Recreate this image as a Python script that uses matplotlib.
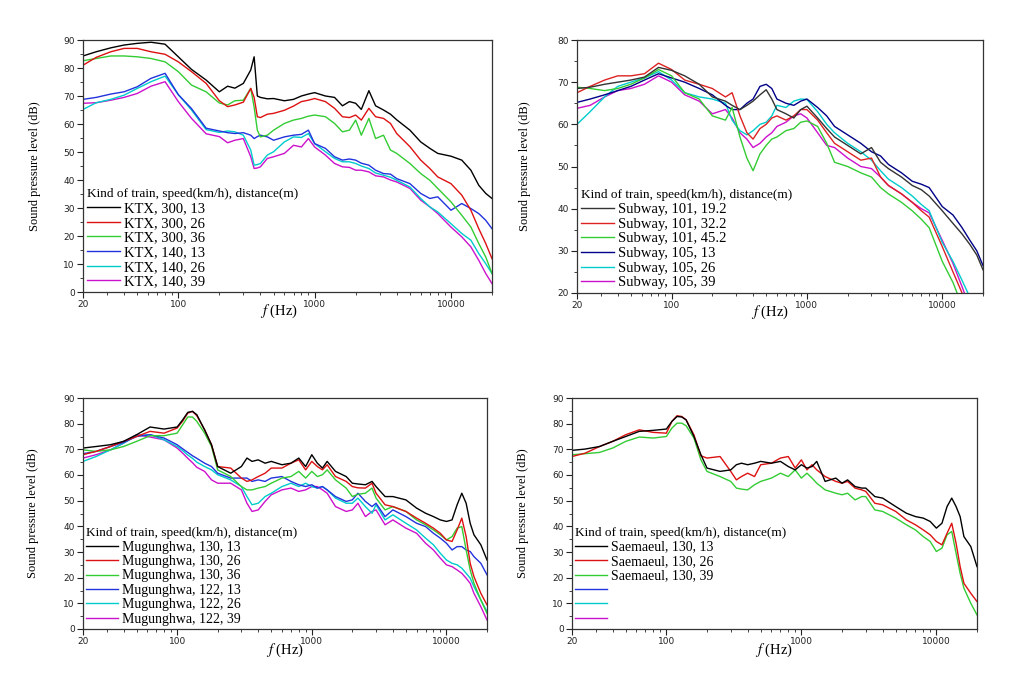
import numpy as np
import matplotlib
matplotlib.use('Agg')
import matplotlib.pyplot as plt
from matplotlib.ticker import FixedLocator, FixedFormatter, LogLocator, NullFormatter, MultipleLocator
from matplotlib.lines import Line2D

# ---------------- data ----------------
LEGEND_TITLE = "Kind of train, speed(km/h), distance(m)"

# Panel 1: KTX
freq_ktx = [20, 25, 32, 40, 50, 63, 80, 100, 125, 160, 200, 230, 260, 300, 340, 360, 380, 400, 450, 500,
            600, 700, 800, 900, 1000, 1200, 1400, 1600, 1800, 2000, 2200, 2500, 2800, 3200, 3600, 4000,
            5000, 6000, 7000, 8000, 10000, 12000, 14000, 16000, 18000, 20000]
ktx_labels = ["KTX, 300, 13", "KTX, 300, 26", "KTX, 300, 36", "KTX, 140, 13", "KTX, 140, 26", "KTX, 140, 39"]
ktx_300_13 = [84.3, 85.8, 87.2, 88.2, 88.8, 89.2, 88.5, 84.0, 79.5, 75.7, 71.5, 73.5, 72.8, 74.5, 79.3,
              84.0, 70.0, 69.5, 69.0, 69.1, 68.3, 68.8, 70.0, 70.7, 71.2, 70.0, 69.5, 66.5, 68.0, 67.4,
              65.2, 71.9, 66.5, 65.0, 63.5, 61.5, 57.8, 53.6, 51.3, 49.5, 48.5, 47.1, 43.5, 38.1, 35.2, 33.4]
ktx_300_26 = [81.0, 83.8, 85.8, 87.0, 87.0, 85.8, 84.9, 82.2, 78.7, 74.5, 68.3, 66.2, 66.8, 67.8, 72.7,
              69.5, 62.6, 62.3, 63.5, 63.8, 64.9, 66.4, 68.0, 68.5, 69.1, 68.0, 65.6, 62.6, 62.3, 63.2,
              61.4, 65.6, 62.6, 62.0, 60.2, 56.6, 51.9, 47.1, 44.1, 41.1, 38.7, 34.6, 29.2, 22.6, 17.3, 11.9]
ktx_300_36 = [82.6, 83.4, 84.3, 84.3, 84.0, 83.4, 82.2, 78.7, 73.9, 71.5, 67.5, 66.8, 68.3, 68.5, 72.7,
              66.0, 57.8, 55.4, 56.0, 57.8, 60.2, 61.4, 62.0, 62.8, 63.2, 62.6, 60.2, 57.2, 57.8, 61.4,
              56.0, 62.0, 54.8, 56.0, 50.7, 49.5, 45.9, 42.3, 39.9, 37.0, 32.2, 27.4, 23.2, 17.3, 12.5, 6.6]
ktx_140_13 = [68.8, 69.5, 70.7, 71.5, 73.3, 76.3, 78.1, 70.5, 65.5, 58.5, 57.5, 56.9, 56.6, 56.9, 56.0,
              54.8, 55.5, 56.0, 55.4, 54.2, 55.4, 56.0, 56.3, 57.8, 53.0, 51.3, 48.3, 47.1, 47.5, 47.1,
              46.0, 45.3, 43.5, 42.3, 42.1, 40.5, 38.7, 35.2, 33.4, 34.0, 29.2, 31.6, 29.8, 28.0, 25.6, 22.6]
ktx_140_26 = [65.2, 67.6, 68.8, 70.3, 72.7, 75.1, 77.1, 70.5, 65.0, 58.0, 57.0, 57.5, 57.2, 56.0, 50.7,
              45.3, 45.5, 45.9, 48.9, 50.1, 53.6, 55.4, 55.2, 56.6, 53.0, 50.1, 47.7, 46.5, 46.5, 45.9,
              45.0, 44.1, 42.5, 41.7, 41.0, 39.9, 37.5, 33.4, 30.4, 28.6, 24.4, 20.9, 18.5, 13.7, 10.1, 6.6]
ktx_140_39 = [67.4, 67.6, 68.5, 69.5, 70.9, 73.5, 75.1, 68.0, 62.0, 56.5, 55.5, 53.3, 54.2, 54.8, 48.3,
              44.1, 44.3, 44.7, 47.7, 48.3, 49.5, 52.4, 51.8, 54.8, 51.8, 48.9, 45.9, 44.7, 44.5, 43.5,
              43.5, 42.9, 41.5, 41.1, 40.0, 39.3, 37.0, 32.8, 30.4, 28.0, 23.2, 19.7, 16.1, 11.3, 6.6, 3.0]

# Panel 2: Subway
freq_sub = [20, 25, 32, 40, 50, 63, 80, 100, 125, 160, 200, 250, 280, 320, 360, 400, 450, 500, 550, 600,
            700, 800, 900, 1000, 1200, 1400, 1600, 2000, 2500, 3000, 3500, 4000, 5000, 6000, 7000, 8000,
            10000, 12000, 14000, 16000, 18000, 20000]
sub_labels = ["Subway, 101, 19.2", "Subway, 101, 32.2", "Subway, 101, 45.2",
              "Subway, 105, 13", "Subway, 105, 26", "Subway, 105, 39"]
sub_101_192 = [68.5, 68.8, 69.5, 70.0, 70.5, 71.2, 73.5, 72.8, 71.5, 69.5, 66.5, 65.5, 64.5, 63.5, 64.5,
               65.5, 67.0, 68.2, 66.0, 63.5, 62.5, 61.5, 63.5, 64.3, 61.5, 59.0, 57.0, 55.0, 53.0, 54.5,
               51.0, 49.5, 47.5, 45.5, 44.5, 43.0, 39.5, 36.5, 34.0, 31.5, 29.0, 25.5]
sub_101_322 = [67.5, 69.0, 70.5, 71.5, 71.5, 72.0, 74.5, 73.0, 70.5, 69.5, 68.5, 66.5, 67.5, 62.0, 58.0,
               56.5, 59.0, 60.0, 61.5, 62.0, 61.0, 62.0, 63.5, 63.5, 61.0, 58.0, 55.5, 53.5, 51.5, 52.0,
               47.5, 45.5, 43.5, 41.5, 39.5, 38.0, 31.0, 25.0, 20.0, 15.0, 11.0, 7.0]
sub_101_452 = [68.8, 68.5, 68.0, 68.5, 69.5, 71.0, 73.0, 71.5, 67.5, 66.0, 62.0, 61.0, 64.0, 57.0, 52.0,
               49.0, 53.0, 55.0, 56.5, 57.0, 58.5, 59.0, 60.5, 60.8, 59.5, 55.5, 51.0, 50.0, 48.5, 47.5,
               45.0, 43.5, 41.5, 39.5, 37.5, 35.5, 27.5, 22.5, 17.0, 12.0, 8.0, 5.0]
sub_105_13 = [65.2, 66.0, 67.0, 68.0, 69.0, 70.5, 72.0, 71.0, 70.0, 68.5, 67.0, 64.5, 63.5, 63.5, 65.0,
              66.0, 69.0, 69.5, 68.5, 66.0, 65.0, 64.5, 65.5, 66.0, 64.0, 62.0, 59.5, 57.5, 55.5, 53.5,
              52.5, 50.5, 48.5, 46.5, 45.8, 45.0, 40.5, 38.5, 35.5, 32.5, 30.0, 26.5]
sub_105_26 = [60.0, 63.0, 66.5, 69.0, 70.0, 71.0, 72.5, 70.5, 67.5, 66.5, 66.0, 65.0, 61.0, 58.5, 57.5,
              58.5, 60.0, 60.5, 62.0, 64.5, 64.0, 65.5, 66.0, 65.9, 63.0, 60.0, 58.0, 55.5, 53.5, 51.5,
              49.0, 47.0, 45.0, 43.0, 41.0, 39.5, 32.0, 27.5, 23.0, 19.0, 14.0, 9.0]
sub_105_39 = [63.8, 64.5, 66.5, 68.0, 68.5, 69.5, 71.5, 70.0, 67.0, 65.5, 62.5, 63.5, 61.5, 58.0, 56.5,
              54.5, 55.5, 57.0, 58.0, 59.5, 60.5, 62.0, 62.5, 61.5, 58.0, 55.0, 54.5, 52.0, 50.0, 49.5,
              47.5, 45.5, 43.5, 41.5, 40.0, 39.0, 32.5, 27.0, 21.5, 16.5, 12.0, 8.0]

# Panels 3 and 4: Mugunghwa and Saemaeul
freq_conv = [20, 25, 32, 40, 50, 63, 80, 100, 110, 120, 130, 140, 160, 180, 200, 250, 300, 330, 360, 400,
             450, 500, 600, 700, 800, 900, 1000, 1100, 1200, 1300, 1500, 1800, 2000, 2200, 2500, 2800,
             3000, 3500, 4000, 5000, 6000, 7000, 8000, 9000, 10000, 11000, 12000, 13000, 14000, 15000,
             16000, 18000, 20000]
mug_labels = ["Mugunghwa, 130, 13", "Mugunghwa, 130, 26", "Mugunghwa, 130, 36",
              "Mugunghwa, 122, 13", "Mugunghwa, 122, 26", "Mugunghwa, 122, 39"]
mug_130_13 = [70.5, 71.1, 71.8, 73.1, 75.7, 78.7, 77.9, 78.7, 81.5, 84.4, 84.8, 83.5, 77.6, 71.8, 63.3,
              60.7, 63.3, 66.6, 65.3, 65.9, 64.6, 65.3, 64.0, 64.6, 66.6, 63.3, 67.9, 64.6, 62.7, 65.3,
              61.4, 59.4, 56.8, 56.5, 56.2, 57.5, 55.5, 51.6, 51.6, 50.3, 47.1, 45.1, 43.8, 42.5, 41.9,
              42.5, 48.4, 52.9, 49.0, 41.2, 36.7, 32.8, 26.9]
mug_130_26 = [67.9, 69.2, 71.1, 73.1, 75.0, 77.0, 76.3, 78.3, 81.0, 84.1, 84.8, 83.1, 77.6, 71.8, 63.3,
              62.7, 58.8, 57.5, 58.1, 59.4, 60.7, 62.7, 62.7, 64.6, 65.9, 62.0, 65.3, 63.3, 62.0, 64.0,
              59.4, 57.5, 55.5, 55.0, 54.9, 56.8, 52.9, 48.4, 47.7, 45.8, 43.2, 41.2, 39.3, 37.3, 34.7,
              34.1, 38.6, 43.2, 36.0, 25.6, 20.4, 13.9, 9.4]
mug_130_36 = [69.8, 69.2, 69.8, 71.1, 73.1, 75.3, 75.3, 76.3, 79.6, 82.6, 82.6, 80.9, 76.3, 71.1, 62.0,
              59.4, 55.5, 54.2, 54.2, 54.9, 55.5, 56.8, 58.8, 59.4, 61.4, 58.8, 61.4, 59.4, 60.1, 62.0,
              58.1, 54.9, 51.6, 52.5, 52.9, 54.9, 51.0, 46.4, 47.7, 45.8, 42.5, 40.6, 38.6, 36.7, 34.7,
              36.0, 39.3, 39.9, 30.8, 23.0, 17.8, 11.3, 6.1]
mug_122_13 = [68.3, 69.2, 71.1, 72.7, 75.0, 75.7, 74.4, 71.8, 70.2, 68.8, 67.5, 66.5, 64.6, 63.3, 60.7,
              58.8, 58.8, 58.8, 57.5, 58.1, 57.5, 58.8, 59.4, 57.5, 56.2, 55.5, 56.2, 54.9, 55.5, 54.2,
              51.6, 49.7, 50.3, 52.9, 49.7, 47.7, 49.0, 43.8, 46.4, 43.8, 41.2, 39.9, 37.3, 35.4, 33.4,
              30.8, 32.1, 32.1, 30.8, 30.2, 28.2, 25.6, 21.1]
mug_122_26 = [65.3, 67.2, 69.8, 72.4, 75.3, 75.7, 73.7, 71.1, 69.5, 67.8, 66.5, 65.0, 63.3, 62.0, 60.1,
              58.1, 55.5, 51.6, 48.4, 49.0, 51.6, 52.9, 55.5, 56.8, 55.5, 56.8, 55.5, 54.9, 55.5, 54.2,
              51.0, 49.0, 49.0, 51.0, 47.7, 45.1, 48.4, 42.5, 44.5, 41.2, 38.6, 35.4, 32.8, 29.5, 26.9,
              25.6, 25.0, 23.7, 21.7, 19.8, 16.5, 11.3, 6.8]
mug_122_39 = [66.6, 67.9, 69.8, 72.4, 75.7, 74.8, 73.7, 70.5, 68.5, 66.5, 64.8, 63.0, 61.4, 58.1, 56.8,
              56.8, 54.2, 49.0, 45.8, 46.4, 49.7, 52.3, 54.2, 54.9, 53.6, 54.2, 55.5, 55.5, 54.2, 52.9,
              47.7, 45.8, 46.4, 49.0, 43.8, 45.8, 46.4, 40.6, 42.5, 39.3, 37.3, 33.4, 30.8, 27.6, 25.0,
              24.3, 23.0, 21.7, 19.8, 17.8, 13.9, 8.7, 3.5]

sae_labels = ["Saemaeul, 130, 13", "Saemaeul, 130, 26", "Saemaeul, 130, 39", " ", " ", " "]
sae_130_13 = [69.6, 70.1, 71.1, 73.1, 75.0, 77.0, 77.4, 77.9, 80.9, 82.8, 82.6, 81.5, 75.0, 68.0, 62.7,
              61.4, 62.0, 64.0, 64.6, 64.0, 64.6, 65.3, 64.6, 65.3, 63.3, 62.0, 64.0, 62.7, 63.3, 65.3,
              57.5, 58.8, 56.8, 58.1, 55.5, 54.9, 54.9, 51.6, 51.0, 47.7, 45.1, 43.8, 43.2, 41.9, 39.3,
              41.2, 47.7, 51.0, 47.7, 43.8, 36.0, 32.1, 24.3]
sae_130_26 = [67.2, 68.5, 71.1, 73.1, 75.7, 77.6, 76.6, 76.3, 80.9, 83.1, 82.8, 81.5, 75.7, 67.5, 66.6,
              67.2, 61.4, 58.1, 59.4, 60.7, 59.4, 64.0, 64.6, 66.6, 67.2, 62.7, 65.9, 62.0, 64.0, 62.0,
              59.4, 57.5, 56.8, 57.5, 54.9, 54.2, 53.6, 49.0, 48.4, 45.8, 42.5, 40.6, 38.6, 36.7, 34.1,
              32.8, 37.3, 41.2, 33.4, 24.3, 17.8, 13.9, 10.7]
sae_130_39 = [67.9, 68.3, 68.8, 70.5, 73.1, 74.8, 74.4, 75.0, 78.3, 80.2, 80.2, 79.2, 74.4, 66.0, 61.4,
              59.4, 57.5, 54.9, 54.5, 54.2, 56.2, 57.5, 58.8, 60.7, 59.4, 62.0, 58.8, 60.7, 58.8, 56.8,
              54.2, 52.9, 52.3, 52.9, 50.3, 51.6, 51.6, 46.4, 45.8, 43.2, 40.6, 38.6, 36.0, 34.1, 30.2,
              31.5, 36.7, 38.0, 29.5, 21.7, 15.9, 10.0, 5.5]

# ---------------- style ----------------
SERIF = 'Liberation Serif'
plt.rcParams['mathtext.fontset'] = 'stix'

colors_std = ['#000000', '#dd1111', '#33cc33', '#2233dd', '#00cccc', '#cc11cc']
colors_sub = ['#333333', '#dd2222', '#33cc33', '#000088', '#00cccc', '#cc11cc']

fig = plt.figure(figsize=(10.11, 6.76), dpi=100)

axes_rects = [
    [83 / 1011, 384 / 676, 409 / 1011, 252 / 676],
    [577 / 1011, 383 / 676, 406 / 1011, 253 / 676],
    [83 / 1011, 47 / 676, 404 / 1011, 231 / 676],
    [572 / 1011, 47 / 676, 405 / 1011, 231 / 676],
]


def style_axes(ax, ymin, ymax, ylab_x, xlab_x, xlab_y):
    ax.set_xscale('log')
    ax.set_xlim(20, 20000)
    ax.set_ylim(ymin, ymax)
    ax.xaxis.set_major_locator(FixedLocator([20, 100, 1000, 10000]))
    ax.xaxis.set_major_formatter(FixedFormatter(['20', '100', '1000', '10000']))
    ax.xaxis.set_minor_locator(LogLocator(base=10, subs=np.arange(2, 10), numticks=20))
    ax.xaxis.set_minor_formatter(NullFormatter())
    ax.yaxis.set_major_locator(MultipleLocator(10))
    ax.yaxis.set_minor_locator(MultipleLocator(5))
    ax.tick_params(which='both', direction='out', top=False, right=False,
                   labelsize=6.5, colors='#222222', pad=2)
    ax.tick_params(which='major', length=4, width=0.8)
    ax.tick_params(which='minor', length=2, width=0.6)
    for sp in ax.spines.values():
        sp.set_linewidth(0.9)
        sp.set_color('#333333')
    ax.set_ylabel('Sound pressure level (dB)', family=SERIF, fontsize=9)
    ax.yaxis.label.set_va('center')
    ax.yaxis.set_label_coords(ylab_x, 0.5)
    ax.set_xlabel(r'$\mathit{f}$ (Hz)', family=SERIF, fontsize=10.5)
    ax.xaxis.label.set_va('center')
    ax.xaxis.set_label_coords(xlab_x, xlab_y)


def add_legend(ax, handles, labels, fs):
    ax.legend(handles, labels, title=LEGEND_TITLE, loc='lower left', frameon=False,
              prop={'family': SERIF, 'size': fs},
              title_fontproperties={'family': SERIF, 'size': 9.5},
              handlelength=2.3, handletextpad=0.25, labelspacing=0.1,
              borderaxespad=0.1, borderpad=0.15, alignment='left')


panels = [
    (freq_ktx, [ktx_300_13, ktx_300_26, ktx_300_36, ktx_140_13, ktx_140_26, ktx_140_39], ktx_labels,
     colors_std, (0, 90), -0.117, 0.48, -0.078, 10.5),
    (freq_sub, [sub_101_192, sub_101_322, sub_101_452, sub_105_13, sub_105_26, sub_105_39], sub_labels,
     colors_sub, (20, 80), -0.128, 0.475, -0.078, 10.5),
    (freq_conv, [mug_130_13, mug_130_26, mug_130_36, mug_122_13, mug_122_26, mug_122_39], mug_labels,
     colors_std, (0, 90), -0.124, 0.5, -0.092, 10.0),
    (freq_conv, [sae_130_13, sae_130_26, sae_130_39], sae_labels,
     colors_std, (0, 90), -0.121, 0.5, -0.092, 10.0),
]

for rect, (freq, series, labels, cols, ylim, ylx, xlx, xly, fs) in zip(axes_rects, panels):
    ax = fig.add_axes(rect)
    handles = []
    # draw in reverse order so black is on top
    for i in range(len(series) - 1, -1, -1):
        ax.plot(freq, series[i], color=cols[i], lw=1.0)
    for i in range(6):
        handles.append(Line2D([], [], color=cols[i], lw=1.0))
    style_axes(ax, ylim[0], ylim[1], ylx, xlx, xly)
    add_legend(ax, handles, labels, fs)

fig.savefig('out.png', dpi=100)
